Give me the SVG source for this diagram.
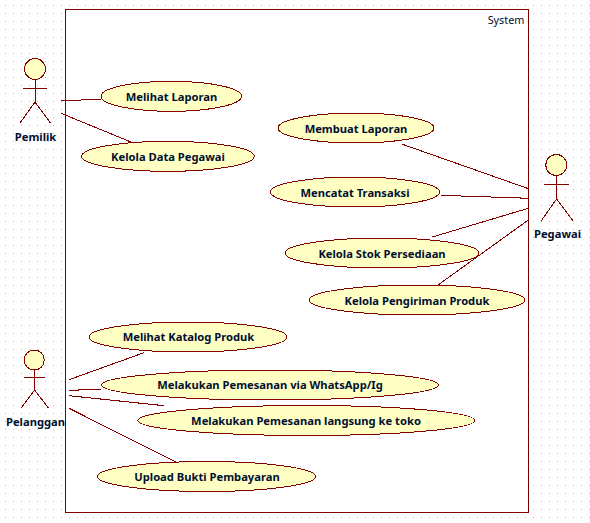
<svg xmlns="http://www.w3.org/2000/svg" width="590" height="523" viewBox="0 0 590 523">
<style>
.l{stroke:#800000;stroke-width:1;fill:none;shape-rendering:crispEdges}
.u{fill:#ffffc4;stroke:#800000;stroke-width:1;shape-rendering:crispEdges}
text{font-family:"Noto Sans",sans-serif;font-size:11.200px;font-weight:bold;fill:#001030;text-anchor:middle}
</style>
<defs>
<pattern id="g" x="0" y="0" width="8" height="8" patternUnits="userSpaceOnUse"><rect x="5" y="5" width="1" height="1" fill="#c0c0c0"/></pattern>
</defs>
<rect width="590" height="523" fill="#fff"/>
<rect width="590" height="523" fill="url(#g)"/>
<g id="system"><rect x="65.5" y="9.5" width="463" height="503" fill="#fff" stroke="#800000" stroke-width="1" shape-rendering="crispEdges"/><text x="506" y="24" style="font-weight:normal;font-size:10.800px">System</text></g>
<g id="connectors" class="l">
<path d="M61 101L101 99"/><path d="M61 113.300L131.700 142.300"/>
<path d="M401.700 144L529.300 189"/><path d="M440.700 195.300L529.300 198.300"/><path d="M432.300 237L529.300 208"/><path d="M438 285L529.300 219.300"/>
<path d="M69 379.700L144 352.700"/><path d="M69 390.300L101 389.300"/><path d="M69 395.700L164 405.700"/><path d="M69 408.300L175.700 461.700"/>
</g>
<g id="pemilik"><circle class="u" cx="35" cy="69" r="10.500"/><path class="l" d="M35 79.500V102M23 88.500H47M35 102L20 123M35 102L50.500 123"/><text x="35.500" y="140.500">Pemilik</text></g>
<g id="pegawai"><circle class="u" cx="556.300" cy="165" r="10.500"/><path class="l" d="M556.500 175.500V199M544 184.500H568.500M556.500 199L541.300 220.700M556.500 199L573 220.700"/><text x="557.500" y="237.500">Pegawai</text></g>
<g id="pelanggan"><circle class="u" cx="34.300" cy="360" r="10"/><path class="l" d="M34.500 370V390M24 377.500H44.700M34.500 390L21 408.300M34.500 390L48.700 408.300"/><text x="35.500" y="425.500">Pelanggan</text></g>
<g id="u1"><ellipse class="u" cx="171.300" cy="96.300" rx="70.300" ry="15"/><text x="171.500" y="101">Melihat Laporan</text></g>
<g id="u2"><ellipse class="u" cx="168" cy="156.300" rx="86.300" ry="15"/><text x="168" y="161">Kelola Data Pegawai</text></g>
<g id="u3"><ellipse class="u" cx="356" cy="128" rx="78" ry="15"/><text x="356" y="133">Membuat Laporan</text></g>
<g id="u4"><ellipse class="u" cx="355" cy="192" rx="84.500" ry="15"/><text x="355" y="197">Mencatat Transaksi</text></g>
<g id="u5"><ellipse class="u" cx="382" cy="253" rx="97" ry="15"/><text x="382" y="258">Kelola Stok Persediaan</text></g>
<g id="u6"><ellipse class="u" cx="417" cy="300" rx="108" ry="15"/><text x="417" y="305">Kelola Pengiriman Produk</text></g>
<g id="u7"><ellipse class="u" cx="188" cy="337" rx="99" ry="15"/><text x="188.500" y="341">Melihat Katalog Produk</text></g>
<g id="u8"><ellipse class="u" cx="270" cy="385" rx="168.500" ry="15"/><text x="270" y="389">Melakukan Pemesanan via WhatsApp/Ig</text></g>
<g id="u9"><ellipse class="u" cx="306.300" cy="420.500" rx="168.500" ry="15"/><text x="306" y="425">Melakukan Pemesanan langsung ke toko</text></g>
<g id="u10"><ellipse class="u" cx="206.500" cy="476.500" rx="109" ry="15"/><text x="207" y="481">Upload Bukti Pembayaran</text></g>
</svg>
